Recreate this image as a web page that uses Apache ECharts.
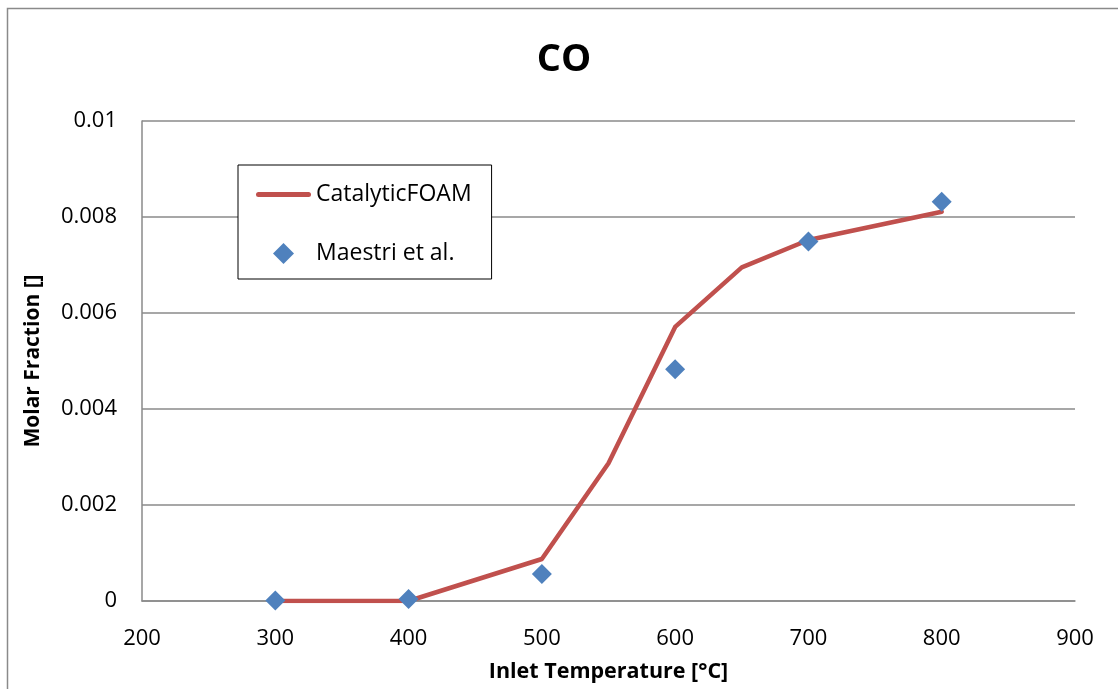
<!DOCTYPE html>
<html>
<head>
<meta charset="utf-8">
<script src="https://cdn.jsdelivr.net/npm/echarts@6/dist/echarts.min.js"></script>
<style>
  html, body { margin: 0; padding: 0; background: #ffffff; }
  #chart { width: 1118px; height: 689px; }
</style>
</head>
<body>
<div id="chart"></div>
<script>
// CO molar fraction vs inlet temperature
const modelTemps = [300, 400, 500, 550, 600, 650, 700, 800];
const modelCO = [0, 0, 0.000875, 0.00287, 0.00571, 0.00695, 0.00752, 0.00811];

const expTemps = [300, 400, 500, 600, 700, 800];
const expCO = [0.00001, 0.00004, 0.00056, 0.00483, 0.00749, 0.00832];

const xTicks = [200, 300, 400, 500, 600, 700, 800, 900];
const yTicks = [0, 0.002, 0.004, 0.006, 0.008, 0.01];

const FONT = 'Open Sans';
const GRID_COLOR = '#8a8a8a';
const LINE_COLOR = '#C0504D';
const DOT_COLOR = '#4F81BD';

// legend icons: a thick rounded stroke and a square-aspect diamond
const LINE_ICON = 'path://M2.5,0H52.5A2.5,2.5 0 0 1 52.5,5H2.5A2.5,2.5 0 0 1 2.5,0Z';
const DIAMOND_ICON = 'path://M10,0L20,10L10,20L0,10Z';

const chart = echarts.init(document.getElementById('chart'), null, { renderer: 'canvas' });

chart.setOption({
  backgroundColor: '#ffffff',
  animation: false,
  graphic: [{
    type: 'rect',
    shape: { x: 7.5, y: 8.5, width: 1300, height: 900 },
    style: { fill: 'none', stroke: GRID_COLOR, lineWidth: 1.5 },
    silent: true,
    z: 0
  }],
  title: {
    text: 'CO',
    left: 559,
    textAlign: 'center',
    top: 36,
    textStyle: { fontFamily: FONT, fontWeight: 'bold', fontSize: 38, color: '#000' }
  },
  legend: {
    orient: 'vertical',
    left: 238,
    top: 165,
    padding: [18, 20, 14, 18],
    itemGap: 36,
    itemWidth: 55,
    itemHeight: 21,
    itemTextGap: 2,
    symbolKeepAspect: true,
    borderColor: '#000',
    borderWidth: 1,
    backgroundColor: '#fff',
    itemStyle: { borderWidth: 0 },
    textStyle: { fontFamily: FONT, fontSize: 23, color: '#000', lineHeight: 22 },
    data: [
      { name: 'CatalyticFOAM', icon: LINE_ICON, itemStyle: { color: LINE_COLOR, borderWidth: 0 } },
      { name: 'Maestri et al.', icon: DIAMOND_ICON, itemStyle: { color: DOT_COLOR, borderWidth: 0 } }
    ]
  },
  grid: { left: 142, right: 43, top: 121, bottom: 88, containLabel: false },
  xAxis: {
    type: 'value',
    min: xTicks[0],
    max: xTicks[xTicks.length - 1],
    interval: 100,
    name: 'Inlet Temperature [°C]',
    nameLocation: 'middle',
    nameGap: 60,
    nameTextStyle: { fontFamily: FONT, fontWeight: 'bold', fontSize: 21.5, color: '#000' },
    axisLine: { show: true, lineStyle: { color: GRID_COLOR, width: 1.5 } },
    axisTick: { show: false },
    splitLine: { show: false },
    axisLabel: { fontFamily: FONT, fontSize: 22, color: '#000', margin: 27 }
  },
  yAxis: {
    type: 'value',
    min: yTicks[0],
    max: yTicks[yTicks.length - 1],
    interval: 0.002,
    name: 'Molar Fraction []',
    nameLocation: 'middle',
    nameGap: 98,
    nameTextStyle: { fontFamily: FONT, fontWeight: 'bold', fontSize: 21, color: '#000' },
    axisLine: { show: true, lineStyle: { color: GRID_COLOR, width: 1.5 } },
    axisTick: { show: false },
    splitLine: { show: true, lineStyle: { color: GRID_COLOR, width: 1.5 } },
    axisLabel: {
      fontFamily: FONT, fontSize: 22, color: '#000', margin: 25,
      formatter: v => String(+v.toFixed(3))
    }
  },
  series: [
    {
      name: 'CatalyticFOAM',
      type: 'line',
      data: modelTemps.map((t, i) => [t, modelCO[i]]),
      symbol: 'none',
      showSymbol: false,
      lineStyle: { color: LINE_COLOR, width: 4.5, cap: 'round', join: 'round' },
      itemStyle: { color: LINE_COLOR },
      z: 2
    },
    {
      name: 'Maestri et al.',
      type: 'scatter',
      data: expTemps.map((t, i) => [t, expCO[i]]),
      symbol: 'diamond',
      symbolSize: 20,
      itemStyle: { color: DOT_COLOR, opacity: 1 },
      z: 3
    }
  ]
});
</script>
</body>
</html>
